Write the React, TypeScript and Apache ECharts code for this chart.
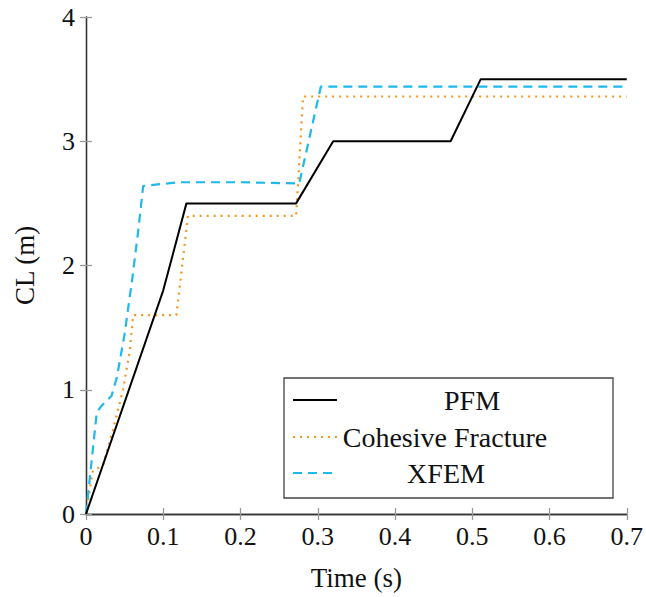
import React, { useEffect, useRef } from "react";
import * as echarts from "echarts";

const xTicks = [0, 0.1, 0.2, 0.3, 0.4, 0.5, 0.6, 0.7];
const yTicks = [0, 1, 2, 3, 4];

const pfmTime = [0, 0.02, 0.1, 0.13, 0.272, 0.32, 0.472, 0.511, 0.7];
const pfmCL = [0, 0.36, 1.8, 2.5, 2.5, 3.0, 3.0, 3.5, 3.5];

const cohTime = [0, 0.009, 0.022, 0.035, 0.048, 0.057, 0.061, 0.117, 0.132, 0.272, 0.281, 0.7];
const cohCL = [0, 0.35, 0.39, 0.68, 1.0, 1.33, 1.6, 1.6, 2.4, 2.4, 3.36, 3.36];

const xfemTime = [0, 0.014, 0.02, 0.033, 0.04, 0.05, 0.06, 0.068, 0.074, 0.12, 0.2, 0.276, 0.304, 0.7];
const xfemCL = [0, 0.82, 0.87, 0.95, 1.1, 1.45, 1.9, 2.3, 2.64, 2.67, 2.67, 2.66, 3.44, 3.44];

const seriesNames = ["PFM", "Cohesive Fracture", "XFEM"];
const seriesColors = ["#000000", "#f7941d", "#1fb8ec"];

const zip = (xs: number[], ys: number[]) => xs.map((x, i) => [x, ys[i]]);

const FONT = "'Liberation Serif', serif";

export default function App() {
  const ref = useRef<HTMLDivElement>(null);
  useEffect(() => {
    document.body.style.margin = "0";
    if (!ref.current) return;
    const chart = echarts.init(ref.current, undefined, { renderer: "svg" });
    const axisLine = { show: true, lineStyle: { color: "#333", width: 1.3 } };
    const axisTick = { show: true, inside: true, length: 6, lineStyle: { color: "#999", width: 1.3 } };
    const label = { color: "#111", fontFamily: FONT, fontSize: 26 };
    const gridL = 86, gridT = 17, gridR = 18, gridB = 83;
    const legX = 284, legY = 378, legW = 329, legH = 120;
    const rowY = [400, 437, 473];
    const textX = [472, 445, 446];
    const dashTypes: any[] = ["solid", [2, 5], [9, 6]];
    const graphics: any[] = [
      {
        type: "rect",
        shape: { x: legX, y: legY, width: legW, height: legH },
        style: { fill: "#fff", stroke: "#444", lineWidth: 1.3 },
        z: 100,
      },
    ];
    seriesNames.forEach((n, i) => {
      graphics.push({
        type: "line",
        shape: { x1: legX + 9, y1: rowY[i], x2: legX + 53, y2: rowY[i] },
        style: { stroke: seriesColors[i], lineWidth: 2, lineDash: i === 0 ? null : dashTypes[i] },
        z: 101,
      });
      graphics.push({
        type: "text",
        x: textX[i],
        y: rowY[i],
        style: {
          text: n,
          fill: "#111",
          font: `28px ${FONT}`,
          textAlign: "center",
          textVerticalAlign: "middle",
        },
        z: 101,
      });
    });
    chart.setOption({
      animation: false,
      grid: { left: gridL, top: gridT, right: gridR, bottom: gridB },
      xAxis: [
        {
          type: "value",
          min: xTicks[0],
          max: xTicks[xTicks.length - 1],
          interval: 0.1,
          axisLine,
          axisTick,
          splitLine: { show: false },
          axisLabel: { ...label, margin: 9, formatter: (v: number) => String(parseFloat(v.toFixed(1))) },
          name: "Time (s)",
          nameLocation: "middle",
          nameGap: 50,
          nameTextStyle: { color: "#111", fontFamily: FONT, fontSize: 27 },
        },
        {
          type: "value",
          position: "top",
          min: xTicks[0],
          max: xTicks[xTicks.length - 1],
          interval: 0.1,
          axisLine,
          axisTick,
          splitLine: { show: false },
          axisLabel: { show: false },
        },
      ],
      yAxis: [
        {
          type: "value",
          min: yTicks[0],
          max: yTicks[yTicks.length - 1],
          interval: 1,
          axisLine,
          axisTick,
          splitLine: { show: false },
          axisLabel: { ...label, margin: 11 },
          name: "CL (m)",
          nameLocation: "middle",
          nameGap: 48,
          nameTextStyle: { color: "#111", fontFamily: FONT, fontSize: 27 },
        },
        {
          type: "value",
          position: "right",
          min: yTicks[0],
          max: yTicks[yTicks.length - 1],
          interval: 1,
          axisLine,
          axisTick,
          splitLine: { show: false },
          axisLabel: { show: false },
        },
      ],
      series: [
        {
          name: seriesNames[0],
          type: "line",
          data: zip(pfmTime, pfmCL),
          showSymbol: false,
          symbol: "none",
          lineStyle: { color: seriesColors[0], width: 2 },
          z: 3,
        },
        {
          name: seriesNames[1],
          type: "line",
          data: zip(cohTime, cohCL),
          showSymbol: false,
          symbol: "none",
          lineStyle: { color: seriesColors[1], width: 2.2, type: [2, 5] },
          z: 2,
        },
        {
          name: seriesNames[2],
          type: "line",
          data: zip(xfemTime, xfemCL),
          showSymbol: false,
          symbol: "none",
          lineStyle: { color: seriesColors[2], width: 2.2, type: [9, 6] },
          z: 2,
        },
      ],
      graphic: graphics,
    });
    return () => chart.dispose();
  }, []);
  return <div ref={ref} style={{ width: 646, height: 597, background: "#fff" }} />;
}
